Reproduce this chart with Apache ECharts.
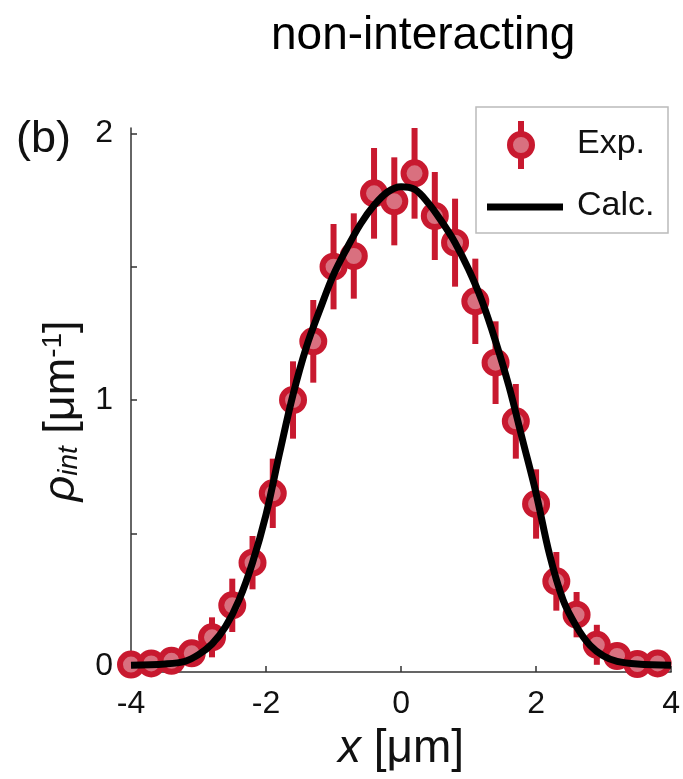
<!DOCTYPE html>
<html><head><meta charset="utf-8">
<script src="https://cdn.jsdelivr.net/npm/echarts@6/dist/echarts.min.js"></script>
<style>html,body{margin:0;padding:0;background:#fff}#c{width:683px;height:779px}</style>
</head><body><div id="c"></div>
<script>
// Experimental data (x in µm, density in µm^-1)
const expX = [-4.0,-3.7,-3.4,-3.1,-2.8,-2.5,-2.2,-1.9,-1.6,-1.3,-1.0,-0.7,-0.4,-0.1,0.2,0.5,0.8,1.1,1.4,1.7,2.0,2.3,2.6,2.9,3.2,3.5,3.8];
const expY = [0.008,0.012,0.022,0.05,0.11,0.23,0.39,0.65,1.0,1.22,1.50,1.54,1.775,1.745,1.85,1.69,1.59,1.37,1.14,0.92,0.61,0.32,0.195,0.082,0.04,0.01,0.012];
const expErr = [0.02,0.02,0.03,0.045,0.075,0.1,0.1,0.13,0.145,0.155,0.16,0.16,0.17,0.165,0.17,0.165,0.165,0.16,0.155,0.14,0.13,0.11,0.085,0.075,0.045,0.03,0.02];
// Calculated curve
const calcX = [-4.0,-3.5,-3.2,-3.0,-2.8,-2.6,-2.4,-2.2,-2.0,-1.8,-1.6,-1.4,-1.2,-1.0,-0.8,-0.6,-0.4,-0.2,0.0,0.2,0.4,0.6,0.8,1.0,1.2,1.4,1.6,1.8,2.0,2.2,2.4,2.6,2.8,3.0,3.2,3.5,4.0];
const calcY = [0.005,0.01,0.02,0.045,0.085,0.15,0.25,0.39,0.57,0.80,1.02,1.20,1.34,1.47,1.57,1.66,1.73,1.78,1.80,1.79,1.74,1.67,1.59,1.49,1.37,1.22,1.05,0.85,0.65,0.42,0.25,0.15,0.08,0.04,0.02,0.01,0.005];
// Axis ticks
const xTicks = [-4,-2,0,2,4];
const yLabelTicks = [0,1,2];
const yAllTicks = [0,0.5,1,1.5,2];

const RED = '#c8192f', PINK = '#d9707f';
const chart = echarts.init(document.getElementById('c'), null, {renderer:'canvas'});
const errData = expX.map((x,i)=>[x, expY[i]-expErr[i], expY[i]+expErr[i]]);
const font = 'Liberation Sans, Arial, sans-serif';
chart.setOption({
  animation:false,
  backgroundColor:'#fff',
  textStyle:{fontFamily:font},
  grid:{left:131, top:128, width:543, height:544},
  xAxis:{type:'value', min:-4, max:4,
    axisLine:{show:true, onZero:false, lineStyle:{color:'#333', width:1.5}},
    axisTick:{inside:true, length:6, customValues:xTicks, lineStyle:{color:'#333', width:1.5}},
    axisLabel:{customValues:xTicks, fontSize:32, color:'#111', margin:16, fontFamily:font},
    splitLine:{show:false},
    name:'{i|x} [μm]', nameLocation:'middle', nameGap:54,
    nameTextStyle:{fontSize:46, color:'#111', fontFamily:font, rich:{i:{fontStyle:'italic', fontSize:46, fontFamily:font, color:'#111'}}}
  },
  yAxis:{type:'value', min:-0.02, max:2.02,
    axisLine:{show:true, onZero:false, lineStyle:{color:'#333', width:1.5}},
    axisTick:{inside:true, length:6, customValues:yAllTicks, lineStyle:{color:'#333', width:1.5}},
    axisLabel:{customValues:yLabelTicks, fontSize:32, color:'#111', margin:18, fontFamily:font},
    splitLine:{show:false},
    name:'{r|ρ}{s|int}{n| [μm}{p|-1}{n|]}', nameLocation:'middle', nameGap:35, nameRotate:90,
    nameTextStyle:{color:'#111', fontFamily:font, padding:[0,22,0,0], rich:{
      r:{fontStyle:'italic', fontSize:45, fontFamily:font, color:'#111'},
      s:{fontStyle:'italic', fontSize:28, fontFamily:font, color:'#111', padding:[15,0,0,0]},
      n:{fontSize:45, fontFamily:font, color:'#111'},
      p:{fontSize:28, fontFamily:font, color:'#111', padding:[0,0,17,0]}
    }}
  },
  graphic:[
    {type:'text', left:271, top:13, style:{text:'non-interacting', font:'46px Liberation Sans, Arial, sans-serif', fill:'#000'}},
    {type:'text', left:16, top:117, style:{text:'(b)', font:'45px Liberation Sans, Arial, sans-serif', fill:'#111'}},
    {type:'rect', shape:{x:476, y:107, width:192, height:126}, style:{fill:'#fff', stroke:'#bbb', lineWidth:1.5}, z:100},
    {type:'line', shape:{x1:521, y1:121, x2:521, y2:169}, style:{stroke:RED, lineWidth:6}, z:101},
    {type:'circle', shape:{cx:521, cy:145, r:11}, style:{fill:PINK, stroke:RED, lineWidth:6}, z:102},
    {type:'line', shape:{x1:487, y1:207, x2:563, y2:207}, style:{stroke:'#000', lineWidth:7}, z:101},
    {type:'text', left:577, top:127, style:{text:'Exp.', font:'34px Liberation Sans, Arial, sans-serif', fill:'#111'}, z:101},
    {type:'text', left:577, top:189, style:{text:'Calc.', font:'34px Liberation Sans, Arial, sans-serif', fill:'#111'}, z:101}
  ],
  series:[
    {type:'custom', name:'err', clip:false, z:2,
     data:errData, encode:{x:0, y:[1,2]},
     renderItem:function(params, api){
       const x = api.value(0);
       const lo = api.coord([x, api.value(1)]);
       const hi = api.coord([x, api.value(2)]);
       return {type:'line', shape:{x1:lo[0], y1:lo[1], x2:hi[0], y2:hi[1]}, style:{stroke:RED, lineWidth:6}};
     }},
    {type:'scatter', name:'Exp.', clip:false, z:3, symbol:'circle', symbolSize:22,
     data:expX.map((x,i)=>[x, expY[i]]),
     itemStyle:{color:PINK, borderColor:RED, borderWidth:6, opacity:1}},
    {type:'line', name:'Calc.', clip:false, z:4, smooth:0.35, showSymbol:false,
     data:calcX.map((x,i)=>[x, calcY[i]]),
     lineStyle:{color:'#000', width:7}}
  ]
});
</script>
</body></html>
